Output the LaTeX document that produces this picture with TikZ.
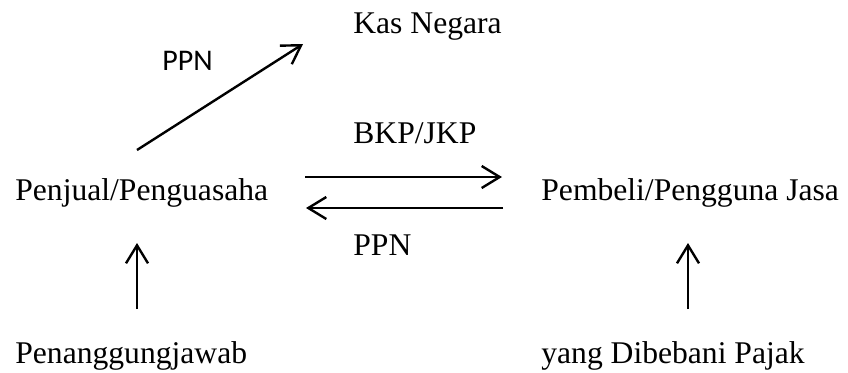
\documentclass[tikz,border=0pt]{standalone}
\usepackage{fontspec}
\setmainfont{Liberation Serif}
\newfontfamily\calibri{Carlito}
\usetikzlibrary{arrows.meta}

\begin{document}
\begin{tikzpicture}[x=0.5pt,y=-0.5pt]
\useasboundingbox (0,0) rectangle (848,372);
\begin{scope}[every node/.style={anchor=base west,inner sep=0pt,font=\fontsize{15.8}{19}\selectfont}]
    \node (K) at (353,33) {Kas Negara};
    \node (P) at (15,200) {Penjual/Penguasaha};
    \node (B) at (541,200) {Pembeli/Pengguna Jasa};
    \node (T) at (15,363) {Penanggungjawab};
    \node (D) at (541,363) {yang Dibebani Pajak};
    \node (L1) at (353,143) {BKP/JKP};
    \node (L2) at (353,255) {PPN};
    \node (L3)[font=\calibri\fontsize{15}{18}\selectfont] at (162,70) {PPN};
\end{scope}

% ends of the arrows
\coordinate (p0) at (137,150);
\coordinate (k0) at (303,44);
\coordinate (r0) at (305,177);
\coordinate (r1) at (502,177);
\coordinate (l0) at (503,208);
\coordinate (l1) at (306,208);
\coordinate (t0) at (137,309);
\coordinate (t1) at (137,243);
\coordinate (d0) at (688,309);
\coordinate (d1) at (688,243);

\begin{scope}[every edge/.style={draw=black,line width=1.2pt,
              -{Straight Barb[length=9pt,width=11pt,line width=1.2pt]}}]
    \path  (p0) edge (k0);
    \path  (r0) edge (r1);
    \path  (l0) edge (l1);
    \path  (t0) edge (t1);
    \path  (d0) edge (d1);
\end{scope}
\end{tikzpicture}
\end{document}
